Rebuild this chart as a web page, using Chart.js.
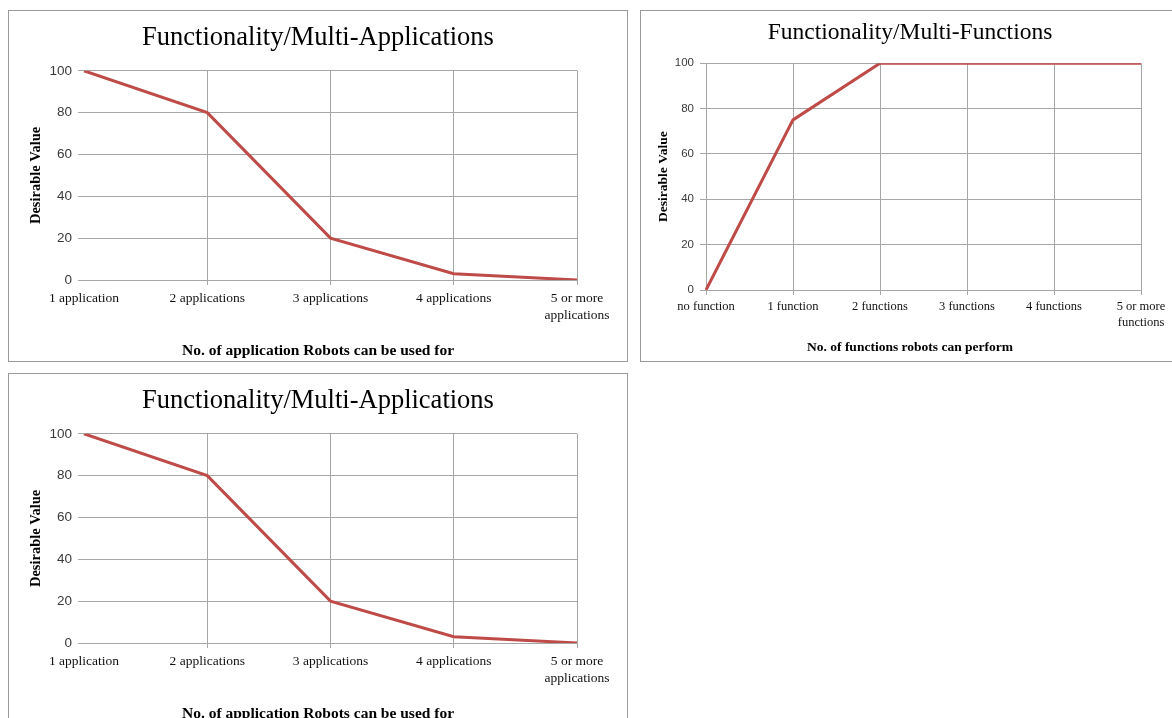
<!DOCTYPE html>
<html>
<head>
<meta charset="utf-8">
<script src="https://cdn.jsdelivr.net/npm/chart.js@4/dist/chart.umd.min.js"></script>
<style>
  html, body { margin: 0; padding: 0; background: #ffffff; width: 1172px; height: 718px; overflow: hidden; position: relative; }
  canvas { position: absolute; }
  .frame { position: absolute; border: 1px solid #9a9a9a; box-sizing: border-box; pointer-events: none; }
</style>
</head>
<body>
<canvas id="appsTop" width="620" height="352" style="left:8px;top:10px"></canvas>
<canvas id="funcs" width="540" height="352" style="left:640px;top:10px"></canvas>
<canvas id="appsBottom" width="620" height="352" style="left:8px;top:373px"></canvas>
<div class="frame" style="left:8px;top:10px;width:620px;height:352px"></div>
<div class="frame" style="left:640px;top:10px;width:540px;height:352px"></div>
<div class="frame" style="left:8px;top:373px;width:620px;height:352px"></div>
<script>
// Desirable value against how many applications a robot can serve
const appCategories = ['1 application', '2 applications', '3 applications', '4 applications', ['5 or more', 'applications']];
const appValues = [100, 80, 20, 3, 0];

// Desirable value against how many functions a robot can perform
const funcCategories = ['no function', '1 function', '2 functions', '3 functions', '4 functions', ['5 or more', 'functions']];
const funcValues = [0, 75, 100, 100, 100, 100];

const yMin = 0, yMax = 100, yStep = 20;

const SERIF = '"Liberation Serif", "Times New Roman", serif';
const SANS = '"Liberation Sans", Arial, sans-serif';
const LINE_RED = '#be4b48';
const GRID = '#a6a6a6';

function drawPanel(id, s) {
  new Chart(document.getElementById(id), {
    type: 'line',
    data: {
      labels: s.labels,
      datasets: [{
        data: s.values,
        borderColor: LINE_RED,
        borderWidth: 3,
        pointRadius: 0,
        tension: 0,
        fill: false
      }]
    },
    options: {
      responsive: false,
      animation: false,
      devicePixelRatio: 1,
      layout: { padding: 0 },
      plugins: {
        legend: { display: false },
        tooltip: { enabled: false },
        title: {
          display: true,
          text: s.title,
          color: '#000000',
          font: { family: SERIF, size: s.titleSize, weight: 'normal', lineHeight: 1.2 },
          padding: { top: s.titlePadTop, bottom: s.titlePadBottom }
        },
        // category axis caption, centred under the whole panel
        subtitle: {
          display: true,
          position: 'bottom',
          text: s.xTitle,
          color: '#000000',
          font: { family: SERIF, size: s.xTitleSize, weight: 'bold', lineHeight: 1.2 },
          padding: { top: 0, bottom: s.xTitlePadBottom }
        }
      },
      scales: {
        x: {
          offset: false,
          border: { display: false },
          grid: {
            color: (c) => (s.hideFirstV && c.index === 0) ? 'rgba(0,0,0,0)' : GRID,
            lineWidth: 1,
            tickLength: 5
          },
          ticks: {
            autoSkip: false,
            maxRotation: 0,
            minRotation: 0,
            padding: s.xTickPad,
            color: '#111111',
            font: { family: SERIF, size: s.xTickSize, lineHeight: s.xTickLine }
          },
          afterFit: (scale) => {
            scale.height = s.xHeight;
            scale.paddingLeft = 0;
            scale.paddingRight = s.padRight;
          }
        },
        y: {
          min: yMin,
          max: yMax,
          border: { display: false },
          grid: { color: GRID, lineWidth: 1, tickLength: 6 },
          ticks: {
            stepSize: yStep,
            padding: s.yTickPad,
            color: '#3a3a3a',
            font: { family: SANS, size: s.yTickSize }
          },
          title: {
            display: true,
            text: 'Desirable Value',
            color: '#000000',
            font: { family: SERIF, size: s.yTitleSize, weight: 'bold', lineHeight: 1.2 },
            padding: { top: s.yTitlePadTop, bottom: 0 }
          },
          afterFit: (scale) => { scale.width = s.yWidth; }
        }
      }
    }
  });
}

const appsPanel = {
  labels: appCategories,
  values: appValues,
  title: 'Functionality/Multi-Applications',
  xTitle: 'No. of application Robots can be used for',
  titleSize: 26.5, titlePadTop: 12, titlePadBottom: 17,
  padRight: 51, yWidth: 76, xHeight: 61.4,
  xTickSize: 13.5, xTickLine: 1.25, xTickPad: 5,
  yTickSize: 13.5, yTickPad: 6,
  yTitleSize: 14.5, yTitlePadTop: 20,
  xTitleSize: 15.5, xTitlePadBottom: 2,
  hideFirstV: true
};

drawPanel('appsTop', appsPanel);
drawPanel('appsBottom', appsPanel);

drawPanel('funcs', {
  labels: funcCategories,
  values: funcValues,
  title: 'Functionality/Multi-Functions',
  xTitle: 'No. of functions robots can perform',
  titleSize: 23.5, titlePadTop: 9, titlePadBottom: 16,
  padRight: 39, yWidth: 66, xHeight: 49.8,
  xTickSize: 12.5, xTickLine: 1.28, xTickPad: 4,
  yTickSize: 11.5, yTickPad: 6,
  yTitleSize: 13.5, yTitlePadTop: 15,
  xTitleSize: 13.5, xTitlePadBottom: 6,
  hideFirstV: false
});
</script>
</body>
</html>
